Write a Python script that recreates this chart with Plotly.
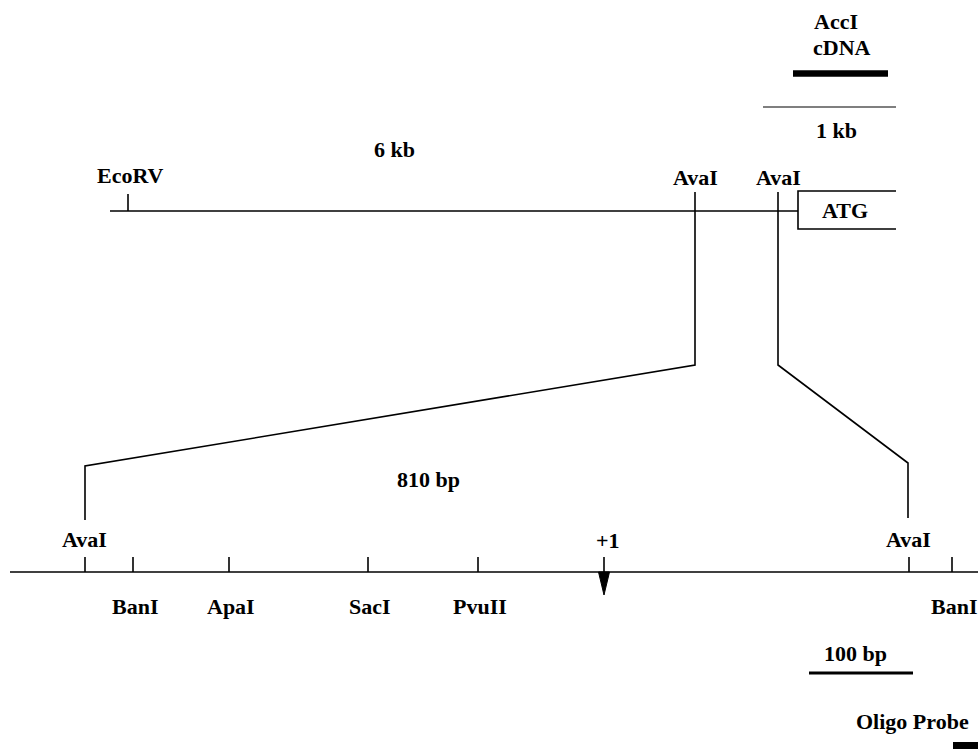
import plotly.graph_objects as go

# ---- data (map positions in diagram units) ----
upper_sites = ["EcoRV", "AvaI", "AvaI"]
upper_pos = [128, 695, 778]
upper_span = [110, 798]          # genomic line extent
atg_box = [798, 896]             # first exon box (open on right)

lower_sites = ["AvaI", "BanI", "ApaI", "SacI", "PvuII", "AvaI", "BanI"]
lower_pos = [85, 133, 229, 368, 478, 909, 952]
lower_side = ["above", "below", "below", "below", "below", "above", "below"]
lower_span = [10, 978]
start_site = 604                 # +1 transcription start

scale_1kb = [763, 896]
cdna_bar = [793, 888]
scale_100bp = [809, 913]
oligo_bar = [953, 978]

texts = {"6 kb": (394, 149), "810 bp": (428, 479), "1 kb": (836, 130),
         "AccI": (836, 21), "cDNA": (842, 47), "100 bp": (855, 653),
         "ATG": (845, 210)}

# layout y levels
Y_UP, Y_LOW = 211, 572
FONT = "Liberation Serif"
BLACK = "black"
FS = 22

fig = go.Figure()

def line(xs, ys, w=1.6):
    fig.add_trace(go.Scatter(x=xs, y=ys, mode="lines",
                             line=dict(color=BLACK, width=w),
                             hoverinfo="skip", showlegend=False))

def label(txt, x, y, anchor="center", size=FS):
    fig.add_annotation(x=x, y=y, text="<b>%s</b>" % txt, showarrow=False,
                       xanchor=anchor, yanchor="middle",
                       font=dict(family=FONT, size=size, color=BLACK))

# upper genomic map
line(upper_span, [Y_UP, Y_UP])
line([atg_box[1], atg_box[0], atg_box[0], atg_box[1]], [191, 191, 229, 229])
for name, p in zip(upper_sites, upper_pos):
    if name == "EcoRV":
        line([p, p], [194, Y_UP])
        label(name, p + 2, 175)
    else:
        line([p, p], [192, Y_UP])
        label(name, p, 177)

# expansion lines from the upper AvaI sites to the lower map
line([upper_pos[1], upper_pos[1], lower_pos[0], lower_pos[0]], [Y_UP, 365, 466, 520])
line([upper_pos[2], upper_pos[2], lower_pos[5] - 1, lower_pos[5] - 1], [Y_UP, 365, 463, 518])

# lower detailed map
line(lower_span, [Y_LOW, Y_LOW])
for name, p, side in zip(lower_sites, lower_pos, lower_side):
    line([p, p], [557, Y_LOW])
    if side == "above":
        label(name, p - 1, 539)
    else:
        label(name, p + 2, 606)

# +1 marker
line([start_site, start_site], [557, Y_LOW])
fig.add_trace(go.Scatter(x=[start_site - 5.5, start_site + 5.5, start_site, start_site - 5.5],
                         y=[Y_LOW, Y_LOW, 595, Y_LOW], mode="lines", fill="toself",
                         fillcolor=BLACK, line=dict(color=BLACK, width=1),
                         hoverinfo="skip", showlegend=False))
label("+1", start_site + 4, 540)

# scale bars
line(cdna_bar, [73.5, 73.5], w=6.5)
line(scale_1kb, [107, 107], w=1.2)
line(scale_100bp, [673, 673], w=3)
line(oligo_bar, [746, 746], w=8)
label("Oligo Probe", 971, 721, anchor="right")

for t, (x, y) in texts.items():
    label(t, x, y)

fig.update_layout(width=978, height=749, margin=dict(l=0, r=0, t=0, b=0),
                  plot_bgcolor="white", paper_bgcolor="white",
                  xaxis=dict(range=[0, 978], visible=False, fixedrange=True),
                  yaxis=dict(range=[749, 0], visible=False, fixedrange=True),
                  showlegend=False)
fig.write_html("out.html", config={"displayModeBar": False},
               post_script="document.body.style.margin='0px';document.body.style.overflow='hidden';")
